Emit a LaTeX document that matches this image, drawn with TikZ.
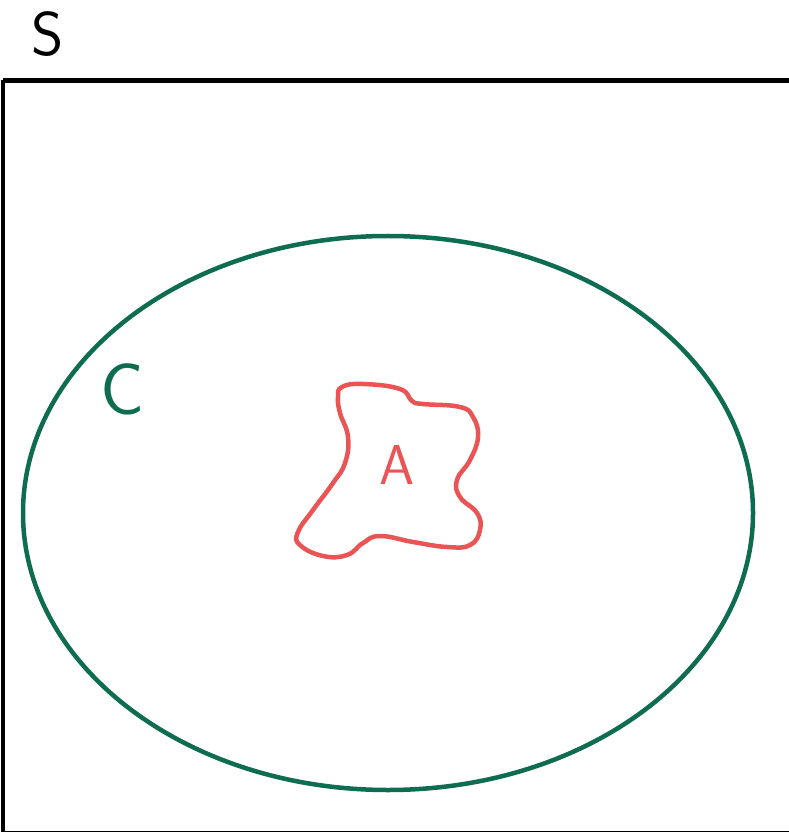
\documentclass[tikz,border=0pt]{standalone}
\usepackage{tikz}
\usetikzlibrary{positioning}
\definecolor{setgreen}{RGB}{14,108,80}
\definecolor{setred}{RGB}{234,84,84}
\tikzset{
	frame/.style={line width=3pt,black},
	setline/.style={line width=3.2pt,setgreen},
	blobline/.style={line width=3.2pt,setred,line join=round},
	setlabel/.style={font=\sffamily\fontsize{44}{44}\selectfont,inner sep=0pt}
}

\begin{document}
\begin{tikzpicture}[x=0.025cm,y=-0.025cm]
        \useasboundingbox (0,0) rectangle (788,832);

        % ==================================================
        % 1. SAMPLE SPACE S
        % ==================================================
        \draw[frame] (3,80.5) -- (3,833) -- (810,833);
        \draw[frame] (3,80.5) -- (810,80.5);
        \node[setlabel] (S) at (48,34) {S};

        % ==================================================
        % 2. SET C
        % ==================================================
        \draw[setline] (388,513) ellipse (365 and 277);
        \node[setlabel,setgreen,font=\sffamily\fontsize{52}{52}\selectfont] (C) at (122,389) {C};

        % ==================================================
        % 3. SET A
        % ==================================================
        \draw[blobline] plot[smooth cycle,tension=0.75] coordinates {
            (342,387) (363,384) (400,389) (412,401) (423,404) (460,407)
            (473,417) (478,437) (470,460) (457,480) (460,497) (477,513)
            (480,530) (470,545) (447,547) (413,542) (380,536) (363,543)
            (347,555) (323,556) (300,545) (298,532) (313,510) (333,483)
            (345,463) (348,437) (340,413) (338,397)};
        \node[setlabel,setred,font=\sffamily\fontsize{40}{40}\selectfont] (A) at (397,465) {A};

    \end{tikzpicture}
\end{document}
